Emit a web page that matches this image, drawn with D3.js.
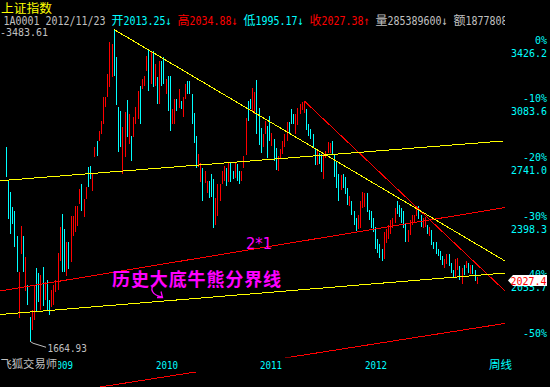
<!DOCTYPE html>
<html lang="zh">
<head>
  <meta charset="utf-8" />
  <title>上证指数 周线</title>
  <script src="https://cdn.jsdelivr.net/npm/d3@7"></script>
  <style>
    body { margin: 0; background: #000; }
    svg { display: block; }
  </style>
</head>
<body>
<div id="chart"></div>
<script>
const w = 550, h = 387;

// weekly bars, Aug 2008 .. Nov 2012
const high = [2794,2600,2531,2443,2420,2274,2069,2333,2274,2151,1993,1806,1847,1993,2092,2063,2051,2098,2010,2022,
  1905,1964,1993,2022,2180,2326,2402,2315,2239,2239,2391,2391,2449,2449,2549,2578,2490,2560,2677,2683,
  2636,2794,2829,2888,2946,3087,3087,3221,3409,3397,3483.61,3321,3028,3005,2911,2999,3068,2987,2859,2970,
  3028,3122,3151,3192,3210,3327,3361,3350,3356,3280,3204,3299,3299,3319,3192,3212,3212,3017,3075,3075,
  3134,3065,3085,3163,3182,3182,3104,2997,2861,2753,2705,2675,2656,2597,2597,2636,2607,2500,2578,2578,
  2656,2685,2675,2705,2705,2656,2705,2695,2656,2656,2744,2968,3065,3075,3143,3114,3186,3026,2909,2870,
  2948,2919,2978,2880,2841,2792,2744,2783,2831,2870,2939,2939,3017,2987,2987,3026,3046,3056,3067,3020,
  2929,2900,2870,2792,2773,2760,2753,2762,2773,2826,2822,2831,2753,2710,2636,2630,2640,2620,2558,2510,
  2480,2420,2380,2400,2480,2536,2530,2530,2430,2420,2380,2330,2260,2230,2200,2300,2320,2340,2370,2380,
  2440,2478,2460,2440,2420,2350,2310,2370,2400,2400,2450,2453,2400,2380,2390,2340,2330,2310,2240,2240,
  2200,2190,2160,2140,2170,2170,2120,2080,2140,2150,2100,2090,2110,2130,2120,2110,2110,2075,2034.88];
const low = [2619,2380,2285,2344,2209,2063,1802,2168,2063,1952,1876,1664.93,1730,1788,1835,1893,1847,1870,1905,1847,
  1817,1864,1876,1952,1964,2127,2063,2063,2039,2081,2121,2274,2297,2332,2461,2420,2385,2490,2560,2607,
  2537,2736,2741,2829,2870,2929,3028,3087,3145,3204,3210,3040,2765,2794,2639,2736,2853,2812,2712,2853,
  2929,2958,2929,3134,3150,3239,3122,3163,3145,3150,3046,3046,3153,3163,3104,3007,2890,2929,2929,3007,
  3026,3017,2968,3075,3104,3104,2929,2822,2675,2675,2597,2480,2588,2529,2500,2500,2319,2344,2393,2480,
  2578,2597,2568,2597,2597,2607,2617,2597,2578,2597,2675,2753,2948,3017,3007,2987,2870,2812,2763,2792,
  2870,2734,2831,2802,2714,2666,2656,2724,2753,2792,2831,2870,2929,2929,2870,2929,2987,3007,2997,2900,
  2860,2841,2792,2695,2690,2695,2650,2610,2733,2760,2763,2753,2617,2560,2480,2540,2560,2520,2460,2450,
  2400,2340,2307,2320,2320,2441,2450,2420,2370,2320,2300,2200,2180,2150,2132,2140,2240,2260,2290,2320,
  2350,2400,2390,2350,2320,2242,2242,2280,2340,2360,2390,2380,2330,2320,2330,2290,2280,2220,2200,2170,
  2160,2140,2110,2090,2110,2100,2060,2040,2030,2080,2020,1999,2050,2090,2060,2060,2060,2010,1995.17];
// 1 = up week (red), 0 = down week (cyan)
const up = [0,0,0,0,0,0,1,1,0,1,0,0,1,1,0,0,1,0,1,0,
  0,1,1,1,1,1,0,0,1,0,1,1,1,1,1,0,1,1,0,0,
  1,1,0,1,1,1,1,1,1,1,0,0,0,0,1,1,0,1,0,1,
  1,1,0,1,1,1,0,1,0,1,0,1,0,0,1,0,0,1,1,0,
  1,0,1,1,0,0,0,0,0,1,1,0,1,1,0,0,0,1,1,1,
  1,1,0,1,0,0,1,0,0,1,1,1,0,0,1,1,0,0,0,1,
  1,0,0,1,0,0,1,1,1,1,1,0,0,0,1,1,1,1,1,0,
  0,0,0,0,1,0,0,1,1,1,1,0,0,0,0,1,0,0,0,1,
  0,0,0,1,1,1,1,0,0,0,0,0,0,0,0,1,1,1,1,1,
  1,0,0,0,0,0,1,1,1,1,1,0,0,1,1,0,1,0,0,0,
  0,0,0,1,1,0,0,0,1,1,0,1,0,1,0,1,0,0,1];

const yearLabels = ["2009", "2010", "2011", "2012"];
const yearAt = [25.8, 74.4, 122.5, 171.2];          // bar index under each label

const pctLabels = ["0%", "-10%", "-20%", "-30%", "-40%", "-50%"];
const levels = [3426.2, 3083.6, 2741.0, 2398.3, 2055.7, 1713.1];

// hand drawn lines, [bar index, price] end points
const yellowLines = [
  [[50, 3483.61], [230.9, 2133.3]],
  [[-2.92, 2602], [229.95, 2833.7]],
  [[-2.92, 1821], [230.9, 2063.2]]
];
const redLines = [
  [[-2.92, 1958.2], [230.9, 2445.6]],
  [[43.38, 1397.9], [230.9, 1769.1]],
  [[138, 3067], [230.9, 1958.2]]
];

const grey = "#c0c0c0", cyan = "#00ffff", red = "#ff0000", yellow = "#ffff00", pink = "#ff00ff";

// header line: text + colour, groups split by one blank cell
const header = [
  ["1A0001 2012/11/23", grey],
  ["开2013.25↓", cyan],
  ["高2034.88↓", red],
  ["低1995.17↓", cyan],
  ["收2027.38↑", red],
  ["量285389600↓", grey],
  ["额187780889", grey]
];
const lastClose = 2027.38;

const mono = "'DejaVu Sans Mono', monospace";
const cjk = "'Noto Sans CJK SC', sans-serif";

const x = d3.scaleLinear().domain([0, 218]).range([6.3, 477.2]);
const y = d3.scaleLinear().domain([1713.1, 3426.2]).range([333, 39.5]);

const svg = d3.select("#chart").append("svg")
  .attr("width", w).attr("height", h)
  .style("background", "#000");

svg.append("clipPath").attr("id", "plotClip")
  .append("rect").attr("x", 0).attr("y", 0).attr("width", 505.5).attr("height", h);
svg.append("clipPath").attr("id", "headClip")
  .append("rect").attr("x", 0).attr("y", 0).attr("width", 505).attr("height", 30);

// ascii text squeezed to 6px per char, like the terminal font
function ascii(g, px, py, str, color, size, anchor, adv) {
  return g.append("text")
    .attr("x", px).attr("y", py)
    .attr("fill", color)
    .attr("font-family", mono)
    .attr("font-size", size)
    .attr("text-anchor", anchor || "start")
    .attr("textLength", str.length * (adv || 6))
    .attr("lengthAdjust", "spacingAndGlyphs")
    .text(str);
}

// title
svg.append("text").attr("x", 1).attr("y", 12.5)
  .attr("fill", yellow).attr("font-family", cjk).attr("font-size", 12)
  .attr("textLength", 51).attr("lengthAdjust", "spacingAndGlyphs")
  .text("上证指数");

// header line, laid out in 6px cells (CJK = 2 cells)
const headG = svg.append("g").attr("clip-path", "url(#headClip)");
let cx = 3.5;
header.forEach(([str, color]) => {
  const runs = str.match(/[\u2e80-\uffff]+|[^\u2e80-\uffff]+/g);
  runs.forEach(run => {
    if (/[\u2e80-\uffff]/.test(run)) {
      headG.append("text").attr("x", cx).attr("y", 24.5)
        .attr("fill", color).attr("font-family", cjk).attr("font-size", 12)
        .text(run);
      cx += run.length * 12;
    } else {
      ascii(headG, cx, 25, run, color, 12);
      cx += run.length * 6;
    }
  });
  cx += 6;
});

ascii(svg, 0, 36, "-" + d3.max(high).toFixed(2), grey, 11);

// bars
const plot = svg.append("g").attr("clip-path", "url(#plotClip)");
plot.selectAll("rect.bar")
  .data(high)
  .enter()
  .append("rect")
  .attr("class", "bar")
  .attr("x", (d, i) => Math.floor(x(i)))
  .attr("width", 1)
  .attr("y", d => Math.floor(y(d)))
  .attr("height", (d, i) => Math.max(1, Math.round(y(low[i]) - y(d))))
  .attr("fill", (d, i) => up[i] ? red : cyan)
  .attr("shape-rendering", "crispEdges");

// lines
function drawLines(list, color) {
  plot.selectAll(null)
    .data(list)
    .enter()
    .append("line")
    .attr("x1", d => x(d[0][0])).attr("y1", d => y(d[0][1]))
    .attr("x2", d => x(d[1][0])).attr("y2", d => y(d[1][1]))
    .attr("stroke", color)
    .attr("stroke-width", 1)
    .attr("shape-rendering", "crispEdges");
}
drawLines(redLines, red);
drawLines(yellowLines, yellow);

// low marker
const lowI = low.indexOf(d3.min(low));
const lx = x(lowI), ly = y(low[lowI]);
svg.append("polyline")
  .attr("points", `${lx},${ly} ${lx + 3},${ly + 2} ${lx + 16},${ly + 6}`)
  .attr("fill", "none").attr("stroke", grey).attr("stroke-width", 1);
ascii(svg, lx + 17.5, 351.7, d3.min(low).toFixed(2), grey, 11, "start", 5.6);

// notes
svg.append("text").attr("x", 112).attr("y", 286)
  .attr("fill", pink).attr("font-family", cjk).attr("font-size", 18).attr("font-weight", "bold")
  .attr("textLength", 169).attr("lengthAdjust", "spacing")
  .text("历史大底牛熊分界线");
svg.append("path")
  .attr("d", "M155,283 C149,289 152,295 162,297 M157,297.5 L162.5,297.5 L161,291.5")
  .attr("fill", "none").attr("stroke", pink).attr("stroke-width", 1.3);
svg.append("text").attr("x", 246).attr("y", 249)
  .attr("fill", pink).attr("font-family", "'DejaVu Sans', sans-serif").attr("font-size", 15)
  .attr("textLength", 26).attr("lengthAdjust", "spacingAndGlyphs")
  .text("2*1");

// x axis strip
svg.append("rect").attr("x", 0).attr("y", 357.5).attr("width", w).attr("height", 14.5).attr("fill", "#000");
yearLabels.forEach((t, k) => {
  ascii(svg, x(yearAt[k]), 368.5, t, cyan, 11, "middle", 5.5);
});
svg.append("rect").attr("x", 0).attr("y", 356).attr("width", 58).attr("height", 16).attr("fill", "#000");
svg.append("text").attr("x", 0.5).attr("y", 368)
  .attr("fill", grey).attr("font-family", cjk).attr("font-size", 11.3)
  .text("飞狐交易师");
svg.append("text").attr("x", 489).attr("y", 369)
  .attr("fill", cyan).attr("font-family", cjk).attr("font-size", 11.5)
  .text("周线");

// right axis (the -40% label sits under the price tag, so it is not drawn)
const yc = y(lastClose) + 1.4;
levels.forEach((v, k) => {
  if (Math.abs(y(v) - yc) > 6) ascii(svg, 547, y(v) + 4, pctLabels[k], cyan, 11, "end");
  if (k < levels.length - 1) ascii(svg, 547, y(v) + 17, v.toFixed(1), cyan, 11, "end");
});

// last price tag
svg.append("polygon")
  .attr("points", `508,${yc} 513,${yc - 5.5} 547,${yc - 5.5} 547,${yc + 5.5} 513,${yc + 5.5}`)
  .attr("fill", "#ffffff");
ascii(svg, 546.5, yc + 4.5, lastClose.toFixed(1), red, 11, "end");
</script>
</body>
</html>
